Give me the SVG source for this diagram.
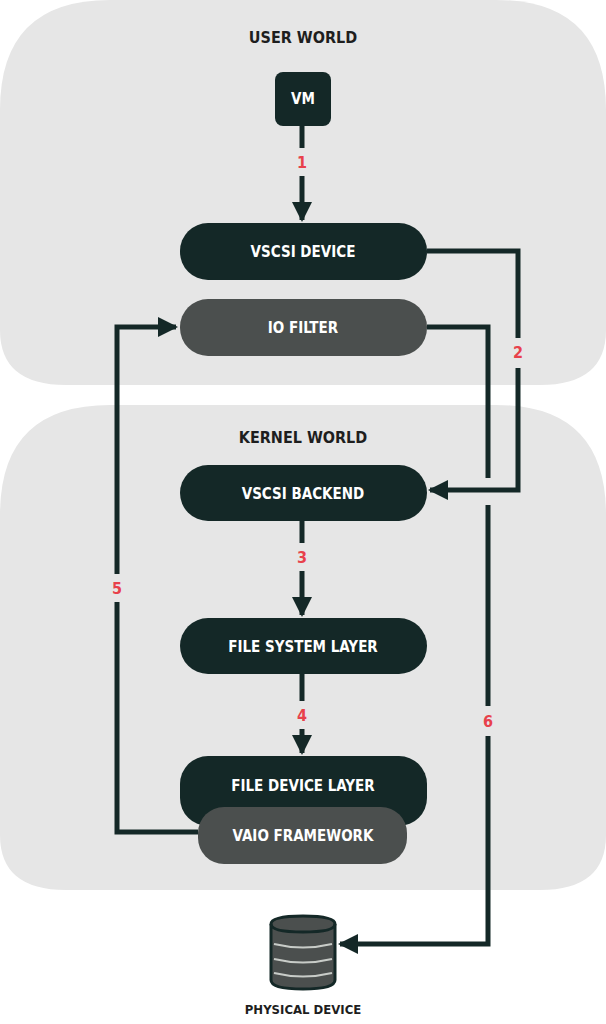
<svg xmlns="http://www.w3.org/2000/svg" width="606" height="1024" viewBox="0 0 606 1024">
<defs>
<style>
.world{fill:#e6e6e6}
.dark{fill:#142827}
.gray{fill:#4b4f4e}
.t{font-family:"DejaVu Sans Condensed","DejaVu Sans",sans-serif;font-stretch:condensed;font-weight:bold;font-size:15px;text-anchor:middle;fill:#fff}
.h{fill:#1e1e1e;font-size:16px}
.n{fill:#e8414b;font-size:16px}
.c{fill:none;stroke:#142827;stroke-width:5}
</style>
<marker id="ah" viewBox="0 0 10 10" refX="9" refY="5" markerWidth="5" markerHeight="4" orient="auto" markerUnits="strokeWidth"><path d="M0,0L10,5L0,10z" fill="#142827"/></marker>
</defs>
<g id="user-world"><path class="world" d="M110,0H496Q606,0 606,110V330Q606,385 540,385H66Q0,385 0,330V110Q0,0 110,0z"/><text class="t h" x="303" y="43">USER WORLD</text></g>
<g id="kernel-world"><path class="world" d="M110,405H496Q606,405 606,515V835Q606,890 540,890H66Q0,890 0,835V515Q0,405 110,405z"/><text class="t h" x="303" y="443">KERNEL WORLD</text></g>
<g id="connectors">
<path class="c" d="M302,126V148M302,176V220" marker-end="url(#ah)"/>
<path class="c" d="M427,251H518V338M518,368V490H430" marker-end="url(#ah)"/>
<path class="c" d="M427,327H488V478"/>
<path class="c" d="M488,505V706M488,736V944H340" marker-end="url(#ah)"/>
<path class="c" d="M198,832H117V602M117,574V327H176" marker-end="url(#ah)"/>
<path class="c" d="M302,521V543M302,571V615" marker-end="url(#ah)"/>
<path class="c" d="M302,674V701M302,729V753" marker-end="url(#ah)"/>
<text class="t n" x="302" y="168">1</text>
<text class="t n" x="518" y="358">2</text>
<text class="t n" x="302" y="563">3</text>
<text class="t n" x="302" y="721">4</text>
<text class="t n" x="117" y="594">5</text>
<text class="t n" x="488" y="727">6</text>
</g>
<g id="vm"><rect class="dark" x="275" y="72" width="56" height="54" rx="8"/><text class="t" x="303" y="104">VM</text></g>
<g id="vscsi-device"><rect class="dark" x="180" y="223" width="247" height="57" rx="28"/><text class="t" x="303" y="257">VSCSI DEVICE</text></g>
<g id="io-filter"><rect class="gray" x="180" y="299" width="247" height="57" rx="28"/><text class="t" x="303" y="333">IO FILTER</text></g>
<g id="vscsi-backend"><rect class="dark" x="180" y="465" width="247" height="56" rx="28"/><text class="t" x="303" y="499">VSCSI BACKEND</text></g>
<g id="file-system-layer"><rect class="dark" x="180" y="618" width="247" height="56" rx="28"/><text class="t" x="303" y="652">FILE SYSTEM LAYER</text></g>
<g id="file-device-layer"><rect class="dark" x="180" y="756" width="247" height="70" rx="28"/><text class="t" x="303" y="791">FILE DEVICE LAYER</text></g>
<g id="vaio-framework"><rect class="gray" x="198" y="807" width="209" height="57" rx="26"/><text class="t" x="303" y="841">VAIO FRAMEWORK</text></g>
<g id="physical-device">
<path d="M271,924Q271,916 303,916Q335,916 335,924V980Q335,989 303,989Q271,989 271,980z" fill="#4b4f4e" stroke="#142827" stroke-width="3"/>
<path d="M271,924Q271,932 303,932Q335,932 335,924" fill="none" stroke="#142827" stroke-width="3"/>
<path d="M274,944Q303,951 332,944M274,959Q303,966 332,959M274,973Q303,980 332,973" fill="none" stroke="#c8ccc8" stroke-width="2"/>
<text class="t h" x="303" y="1014" style="font-size:13px">PHYSICAL DEVICE</text>
</g>
</svg>
